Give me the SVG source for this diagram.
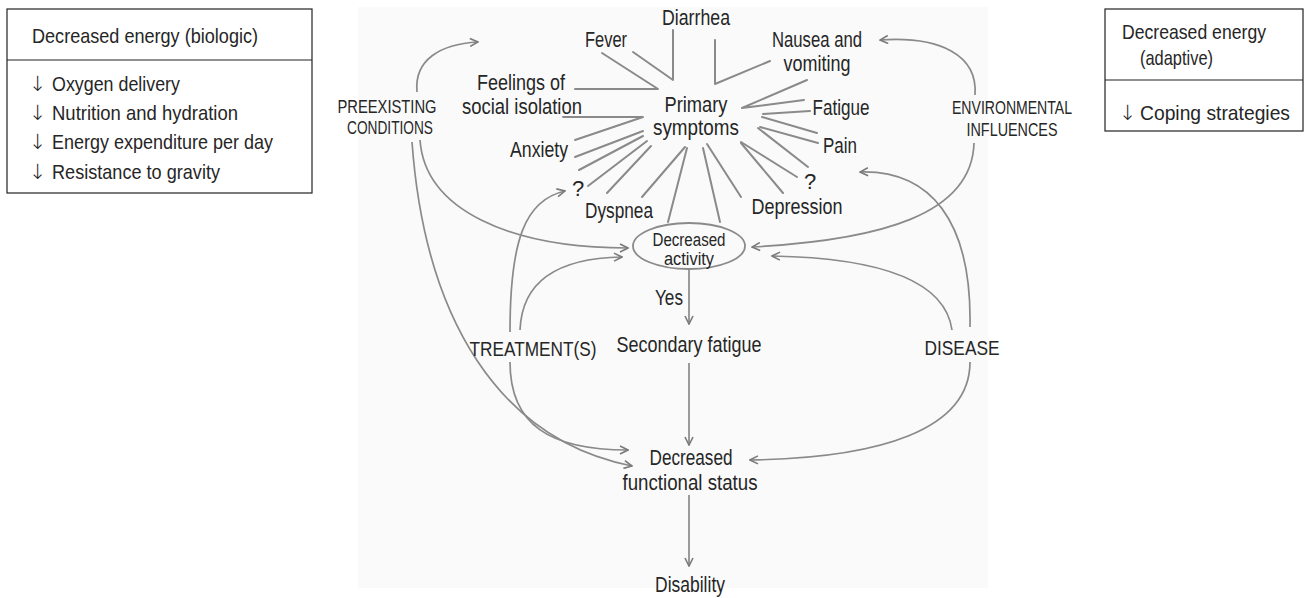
<svg xmlns="http://www.w3.org/2000/svg" width="1306" height="598" viewBox="0 0 1306 598">
<style>
.t{font-family:"Liberation Sans",Arial,sans-serif;fill:#262626}
.a{font-family:"DejaVu Sans",sans-serif;font-size:21px;font-weight:200;fill:#262626}
.b{font-size:21px}
.c{font-size:22px;text-anchor:middle}
.r{font-size:22px;text-anchor:end}
.u{font-size:18px;text-anchor:middle}
.u2{font-size:21px;text-anchor:middle}
.e{font-size:18px;text-anchor:middle}
.box{fill:#fff;stroke:#222;stroke-width:1.2}
.star{stroke:#8a8a8a;stroke-width:2;fill:none;stroke-linecap:round;stroke-linejoin:round}
.cv{stroke:#8a8a8a;stroke-width:1.7;fill:none}
</style>
<defs>
<marker id="ah" viewBox="0 0 10 10" refX="9" refY="5" markerWidth="10" markerHeight="10" markerUnits="userSpaceOnUse" orient="auto">
<path d="M1,1 L9,5 L1,9" fill="none" stroke="#7a7a7a" stroke-width="1.6"/>
</marker>
</defs>
<rect x="358" y="7" width="630" height="581" fill="#fafafa"/>

<g id="box-biologic">
<rect class="box" x="7" y="9" width="305" height="184"/>
<line x1="7" y1="60" x2="312" y2="60" stroke="#222" stroke-width="1.2"/>
<text class="t b" x="32" y="43" textLength="226" lengthAdjust="spacingAndGlyphs">Decreased energy (biologic)</text>
<text class="a" x="29" y="91">↓</text><text class="t b" x="52" y="91" textLength="128" lengthAdjust="spacingAndGlyphs">Oxygen delivery</text>
<text class="a" x="29" y="120">↓</text><text class="t b" x="52" y="120" textLength="186" lengthAdjust="spacingAndGlyphs">Nutrition and hydration</text>
<text class="a" x="29" y="149">↓</text><text class="t b" x="52" y="149" textLength="221" lengthAdjust="spacingAndGlyphs">Energy expenditure per day</text>
<text class="a" x="29" y="179">↓</text><text class="t b" x="52" y="179" textLength="168" lengthAdjust="spacingAndGlyphs">Resistance to gravity</text>
</g>

<g id="box-adaptive">
<rect class="box" x="1105" y="9" width="198" height="122"/>
<line x1="1105" y1="80" x2="1303" y2="80" stroke="#222" stroke-width="1.2"/>
<text class="t b" x="1122" y="39" textLength="144" lengthAdjust="spacingAndGlyphs">Decreased energy</text>
<text class="t b" x="1140" y="65" textLength="73" lengthAdjust="spacingAndGlyphs">(adaptive)</text>
<text class="a" x="1119" y="120">↓</text><text class="t b" x="1140" y="120" textLength="150" lengthAdjust="spacingAndGlyphs">Coping strategies</text>
</g>

<g id="connectors">
<polyline class="star" points="602,53 658,89 575,89"/>
<polyline class="star" points="633,52 673,80 673,30"/>
<polyline class="star" points="715,40 715,84 770,61"/>
<polyline class="star" points="807,80 742,108 804,100"/>
<polyline class="star" points="563,117 643,117 575,140"/>
<line class="star" x1="575" y1="157" x2="643" y2="131"/>
<line class="star" x1="579" y1="170" x2="643" y2="136"/>
<line class="star" x1="588" y1="186" x2="647" y2="141"/>
<line class="star" x1="607" y1="193" x2="651" y2="146"/>
<line class="star" x1="642" y1="197" x2="685" y2="147"/>
<line class="star" x1="668" y1="222" x2="687" y2="148"/>
<line class="star" x1="720" y1="222" x2="703" y2="148"/>
<line class="star" x1="741" y1="197" x2="707" y2="144"/>
<line class="star" x1="783" y1="193" x2="741" y2="143"/>
<line class="star" x1="797" y1="177" x2="741" y2="142"/>
<line class="star" x1="808" y1="167" x2="758" y2="128"/>
<line class="star" x1="818" y1="143" x2="760" y2="127"/>
<line class="star" x1="817" y1="133" x2="762" y2="117"/>
<line class="star" x1="810" y1="111" x2="763" y2="114"/>

<path class="cv" d="M417,92 C414,60 440,44 478,42" marker-end="url(#ah)"/>
<path class="cv" d="M420,140 C425,210 510,248 628,248" marker-end="url(#ah)"/>
<path class="cv" d="M412,142 C425,320 500,440 632,466" marker-end="url(#ah)"/>
<path class="cv" d="M510,332 C510,240 525,200 565,191" marker-end="url(#ah)"/>
<path class="cv" d="M520,330 C522,280 560,258 622,257" marker-end="url(#ah)"/>
<path class="cv" d="M510,362 C510,425 550,450 628,450" marker-end="url(#ah)"/>
<path class="cv" d="M975,95 C978,55 940,36 880,40" marker-end="url(#ah)"/>
<path class="cv" d="M974,143 C972,215 880,240 752,247" marker-end="url(#ah)"/>
<path class="cv" d="M970,327 C972,220 930,170 860,172" marker-end="url(#ah)"/>
<path class="cv" d="M970,362 C970,430 880,458 750,460" marker-end="url(#ah)"/>
<path class="cv" d="M952,330 C945,280 880,258 772,256" marker-end="url(#ah)"/>
<path class="cv" d="M689,270 L689,324" marker-end="url(#ah)"/>
<path class="cv" d="M689,363 L689,445" marker-end="url(#ah)"/>
<path class="cv" d="M689,495 L689,566" marker-end="url(#ah)"/>
</g>

<g id="n-diarrhea"><text class="t c" x="696" y="25" textLength="68" lengthAdjust="spacingAndGlyphs">Diarrhea</text></g>
<g id="n-fever"><text class="t c" x="606" y="47" textLength="42" lengthAdjust="spacingAndGlyphs">Fever</text></g>
<g id="n-nausea"><text class="t c" x="817" y="47" textLength="90" lengthAdjust="spacingAndGlyphs">Nausea and</text><text class="t c" x="817" y="71" textLength="67" lengthAdjust="spacingAndGlyphs">vomiting</text></g>
<g id="n-feelings"><text class="t c" x="521" y="90" textLength="88" lengthAdjust="spacingAndGlyphs">Feelings of</text><text class="t c" x="522" y="114" textLength="120" lengthAdjust="spacingAndGlyphs">social isolation</text></g>
<g id="n-primary"><text class="t c" x="696" y="112" textLength="63" lengthAdjust="spacingAndGlyphs">Primary</text><text class="t c" x="696" y="135" textLength="86" lengthAdjust="spacingAndGlyphs">symptoms</text></g>
<g id="n-fatigue"><text class="t c" x="841" y="115" textLength="57" lengthAdjust="spacingAndGlyphs">Fatigue</text></g>
<g id="n-pain"><text class="t c" x="840" y="153" textLength="34" lengthAdjust="spacingAndGlyphs">Pain</text></g>
<g id="n-anxiety"><text class="t r" x="568" y="157" textLength="58" lengthAdjust="spacingAndGlyphs">Anxiety</text></g>
<g id="n-q1"><text class="t c" x="578" y="196">?</text></g>
<g id="n-dyspnea"><text class="t c" x="619" y="218" textLength="68" lengthAdjust="spacingAndGlyphs">Dyspnea</text></g>
<g id="n-q2"><text class="t c" x="810" y="189">?</text></g>
<g id="n-depression"><text class="t c" x="797" y="214" textLength="91" lengthAdjust="spacingAndGlyphs">Depression</text></g>
<g id="n-preexisting"><text class="t u" x="387" y="113" textLength="99" lengthAdjust="spacingAndGlyphs">PREEXISTING</text><text class="t u" x="390" y="134" textLength="86" lengthAdjust="spacingAndGlyphs">CONDITIONS</text></g>
<g id="n-environmental"><text class="t u" x="1012" y="114" textLength="120" lengthAdjust="spacingAndGlyphs">ENVIRONMENTAL</text><text class="t u" x="1012" y="136" textLength="91" lengthAdjust="spacingAndGlyphs">INFLUENCES</text></g>
<g id="n-activity">
<ellipse cx="689" cy="246" rx="56" ry="23" fill="none" stroke="#8a8a8a" stroke-width="1.8"/>
<text class="t e" x="689" y="246" textLength="73" lengthAdjust="spacingAndGlyphs">Decreased</text><text class="t e" x="689" y="265" textLength="50" lengthAdjust="spacingAndGlyphs">activity</text>
</g>
<g id="n-yes"><text class="t c" x="669" y="305" textLength="28" lengthAdjust="spacingAndGlyphs">Yes</text></g>
<g id="n-secondary"><text class="t c" x="689" y="352" textLength="145" lengthAdjust="spacingAndGlyphs">Secondary fatigue</text></g>
<g id="n-treatment"><text class="t u2" x="533" y="356" textLength="127" lengthAdjust="spacingAndGlyphs">TREATMENT(S)</text></g>
<g id="n-disease"><text class="t u2" x="962" y="355" textLength="75" lengthAdjust="spacingAndGlyphs">DISEASE</text></g>
<g id="n-functional"><text class="t c" x="691" y="465" textLength="83" lengthAdjust="spacingAndGlyphs">Decreased</text><text class="t c" x="690" y="490" textLength="135" lengthAdjust="spacingAndGlyphs">functional status</text></g>
<g id="n-disability"><text class="t c" x="690" y="592" textLength="70" lengthAdjust="spacingAndGlyphs">Disability</text></g>
</svg>
